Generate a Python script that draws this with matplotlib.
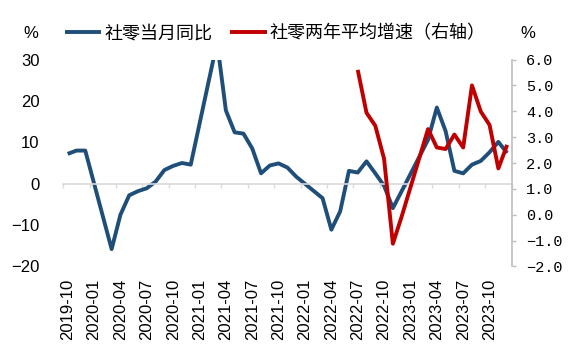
import matplotlib.pyplot as plt
import numpy as np
import pandas as pd

# 月度类别：2019-10 ~ 2023-12
months = pd.period_range('2019-10', '2023-12', freq='M').strftime('%Y-%m')
nan = np.nan

# 社零当月同比（左轴，%），1-2月合并公布故为空
retail_yoy = [7.2, 8.0, 8.0,
              nan, nan, -15.8, -7.5, -2.8, -1.8, -1.1, 0.5, 3.3, 4.3, 5.0, 4.6,
              nan, nan, 34.2, 17.7, 12.4, 12.1, 8.5, 2.5, 4.4, 4.9, 3.9, 1.7,
              nan, nan, -3.5, -11.1, -6.7, 3.1, 2.7, 5.4, 2.5, -0.5, -5.9, -1.8,
              nan, nan, 10.6, 18.4, 12.7, 3.1, 2.5, 4.6, 5.5, 7.6, 10.1, 7.4]

# 社零两年平均增速（右轴，%）
retail_2y = [nan] * 33 + [5.6, 3.94, 3.44, 2.16, -1.12, -0.07,
                          nan, nan, 3.31, 2.60, 2.54, 3.10, 2.60, 5.00, 3.99, 3.47, 1.79, 2.70]

tick_labels = ['2019-10', '2020-01', '2020-04', '2020-07', '2020-10', '2021-01',
               '2021-04', '2021-07', '2021-10', '2022-01', '2022-04', '2022-07',
               '2022-10', '2023-01', '2023-04', '2023-07', '2023-10']

BLUE = '#1F4E79'
RED = '#C00000'
GREY = '#D9D9D9'

plt.rcParams['font.family'] = ['Liberation Sans', 'DejaVu Sans']

fig = plt.figure(figsize=(5.85, 3.49), dpi=100)
ax = fig.add_axes([0.1082, 0.2364, 0.7662, 0.5931])
ax2 = ax.twinx()

x = np.arange(len(months))
yoy = np.array(retail_yoy, dtype=float)
ok = ~np.isnan(yoy)
l1, = ax.plot(x[ok], yoy[ok], color=BLUE, lw=2.8, solid_joinstyle='round',
              solid_capstyle='butt', label='社零当月同比')
two = np.array(retail_2y, dtype=float)
ok2 = ~np.isnan(two)
l2, = ax2.plot(x[ok2], two[ok2], color=RED, lw=2.8, solid_joinstyle='round',
               solid_capstyle='butt', label='社零两年平均增速（右轴）')

# 左轴
ax.set_xlim(-0.5, len(months) - 0.5)
ax.set_ylim(-20, 30)
ax.set_yticks(np.arange(-20, 31, 10))
for s in ['top', 'left', 'right']:
    ax.spines[s].set_visible(False)
ax.spines['bottom'].set_position(('data', 0))
ax.spines['bottom'].set_color(GREY)
ax.spines['bottom'].set_linewidth(1.2)
ax.set_xticks(np.arange(-0.5, len(months), 3))
ax.set_xticklabels([])
ax.tick_params(axis='x', direction='out', length=2.6, width=1, color=GREY)
ax.tick_params(axis='y', length=0, pad=17, labelsize=12)

# 右轴
ax2.set_ylim(-2, 6)
rticks = np.arange(-2, 6.1, 1)
ax2.set_yticks(rticks)
ax2.set_yticklabels([f'{v:.1f}'.replace('-', '\u2212') for v in rticks],
                    family=['Liberation Mono', 'DejaVu Sans Mono'], fontsize=11)
for s in ['top', 'left', 'bottom']:
    ax2.spines[s].set_visible(False)
ax2.spines['right'].set_color('#BFBFBF')
ax2.spines['right'].set_linewidth(1.2)
ax2.tick_params(axis='y', direction='out', length=2.6, width=1, color='#BFBFBF', pad=8)

# 日期标签
sec = ax.secondary_xaxis(0)
sec.set_xticks(np.arange(0, len(months) - 2, 3), tick_labels, rotation=90)
sec.tick_params(length=0, pad=8.5, labelsize=12)
sec.spines['bottom'].set_visible(False)

fig.text(31 / 585, 1 - 33.3 / 349, '%', ha='center', va='center', fontsize=12)
fig.text(528 / 585, 1 - 33.3 / 349, '%', ha='center', va='center', fontsize=12)

fig.legend(handles=[l1, l2], loc='center left', bbox_to_anchor=(65 / 585, 1 - 33.3 / 349),
           ncol=2, frameon=False, prop={'family': ['Noto Sans CJK SC'], 'size': 13},
           handlelength=2.0, handletextpad=0.18, columnspacing=1.0,
           borderpad=0, borderaxespad=0)

fig.savefig('out.png', dpi=100)
